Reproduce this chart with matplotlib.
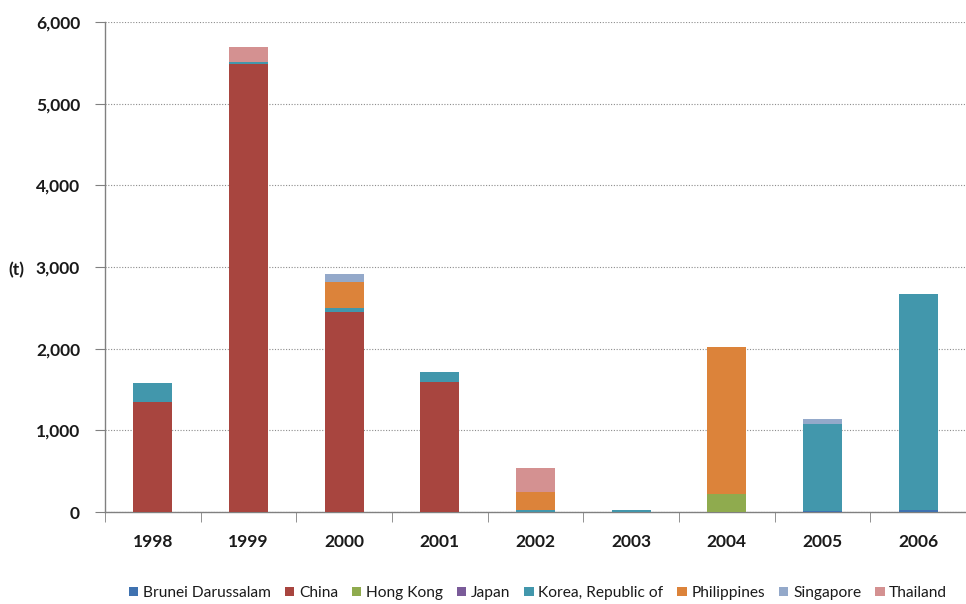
import matplotlib
matplotlib.use("Agg")
import matplotlib.pyplot as plt
from matplotlib.ticker import FuncFormatter, FixedLocator
import numpy as np

years = ["1998", "1999", "2000", "2001", "2002", "2003", "2004", "2005", "2006"]
countries = ["Brunei Darussalam", "China", "Hong Kong", "Japan",
             "Korea, Republic of", "Philippines", "Singapore", "Thailand"]

brunei = [0, 0, 0, 0, 0, 0, 0, 10, 25]
china = [1350, 5490, 2450, 1595, 0, 0, 0, 0, 0]
hong_kong = [0, 0, 0, 0, 0, 0, 225, 0, 0]
japan = [0, 0, 0, 0, 0, 0, 0, 0, 0]
korea = [235, 25, 50, 115, 30, 30, 0, 1070, 2650]
philippines = [0, 0, 320, 0, 210, 0, 1800, 0, 0]
singapore = [0, 0, 100, 0, 0, 0, 0, 60, 0]
thailand = [0, 180, 0, 0, 295, 0, 0, 0, 0]

series = [brunei, china, hong_kong, japan, korea, philippines, singapore, thailand]
colors = ["#3F72B0", "#A8453F", "#8FAB4E", "#7A5B99", "#4297AC",
          "#DC833A", "#94A9CA", "#D49191"]

fig = plt.figure(figsize=(9.66, 6.04), dpi=100)
ax = fig.add_axes([0.1087, 0.1523, 0.8913, 0.8113])

x = np.arange(len(years))
bottom = np.zeros(len(years))
for name, vals, col in zip(countries, series, colors):
    v = np.array(vals, dtype=float)
    ax.bar(x, v, width=0.41, bottom=bottom, color=col, label=name, zorder=3)
    bottom += v

ax.set_xlim(-0.5, len(years) - 0.5)
ax.set_ylim(0, 6000)
ax.set_yticks(np.arange(0, 6001, 1000))
ax.yaxis.set_major_formatter(FuncFormatter(lambda v, p: f"{int(v):,}"))
ax.grid(axis="y", color="#8C8C8C", linestyle=(0, (1, 1.5)), linewidth=0.8, zorder=0)

ax.set_xticks(x)
ax.set_xticklabels(years)
ax.xaxis.set_minor_locator(FixedLocator(np.arange(-0.5, len(years), 1.0)))
ax.tick_params(axis="x", which="major", length=0, pad=16)
ax.tick_params(axis="x", which="minor", length=7, color="#808080", direction="out")
ax.tick_params(axis="y", length=7, color="#808080", direction="out", pad=11)

for lbl in ax.get_xticklabels() + ax.get_yticklabels():
    lbl.set_fontfamily("Lato")
    lbl.set_fontweight("bold")
    lbl.set_fontsize(12.5)
    lbl.set_color("#1a1a1a")

for s in ["top", "right"]:
    ax.spines[s].set_visible(False)
for s in ["left", "bottom"]:
    ax.spines[s].set_color("#808080")
    ax.spines[s].set_linewidth(1.0)

fig.text(0.017, 1 - 270 / 604, "(t)", fontfamily="Lato", fontweight="bold",
         fontsize=12.5, ha="center", va="center", color="#1a1a1a")

leg = fig.legend(loc="center", bbox_to_anchor=(0.557, 1 - 593 / 604), ncol=8,
                 frameon=False, handlelength=0.6, handleheight=0.6,
                 handletextpad=0.3, columnspacing=0.9,
                 prop={"family": "Lato", "size": 11.2})
for t in leg.get_texts():
    t.set_color("#1a1a1a")

fig.savefig("out.png", dpi=100)
